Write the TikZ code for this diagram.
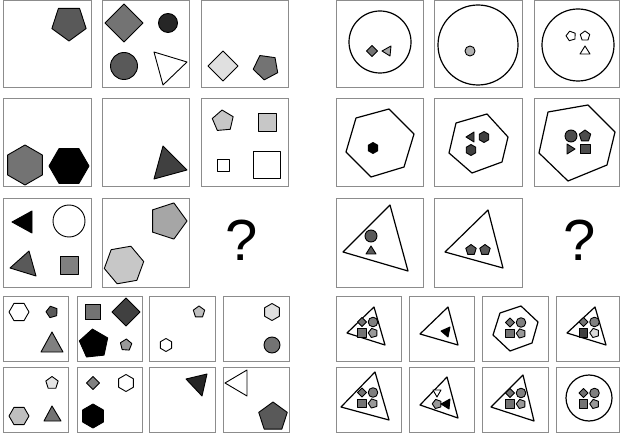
\documentclass[tikz,border=0pt]{standalone}
\usepackage{fontspec}
\setmainfont{Liberation Sans}
\tikzset{
  panel/.style={draw=black!45, line width=1pt},
  fig/.style={draw=black, line width=0.9pt, line join=round},
  frame/.style={draw=black, line width=1.2pt, line join=round},
}
% regular polygon: sides, x, y, radius, turn, fill
\newcommand{\ngon}[6]{%
  \draw[fig, fill=#6, shift={(#2,#3)}] ({90+#5}:#4)
    \foreach \k in {2,...,#1} {-- ({90+#5+360*(\k-1)/#1}:#4)} -- cycle;}
% group of four small shapes: x, y, square fill, pentagon fill
\newcommand{\quartet}[4]{%
  \ngon{4}{#1-5.5}{#2-5.5}{4.6}{0}{black!55}
  \draw[fig, fill=black!50] (#1+5.5,#2-5.5) circle (4.8);
  \ngon{4}{#1-5.5}{#2+5.5}{5.8}{45}{#3}
  \ngon{5}{#1+5.5}{#2+5.5}{4.8}{20}{#4}}
\begin{document}
\begin{tikzpicture}[x=1pt, y=-1pt]
    \useasboundingbox (0,0) rectangle (620,435);

    % left grid, row 1
    \draw[panel] (3,0.5) rectangle (91,88);
    \ngon{5}{69}{23}{18}{0}{black!65}
    \draw[panel] (102,0.5) rectangle (189,88);
    \ngon{4}{124}{23}{19}{0}{black!55}
    \draw[fig, fill=black!85] (168,23) circle (9.5);
    \draw[fig, fill=black!65] (124,66) circle (13.5);
    \draw[fig, fill=white] (154,52) -- (187,62) -- (163,85) -- cycle;
    \draw[panel] (201,0.5) rectangle (288,88);
    \ngon{4}{223}{66}{15}{0}{black!12}
    \ngon{5}{266}{67}{13}{8}{black!55}

    % left grid, row 2
    \draw[panel] (3,99) rectangle (91,187);
    \ngon{6}{25}{165}{20}{0}{black!55}
    \ngon{6}{69}{166}{20}{30}{black}
    \draw[panel] (102,99) rectangle (189,187);
    \draw[fig, fill=black!75] (163,146) -- (187,170) -- (154,179) -- cycle;
    \draw[panel] (201,99) rectangle (288,187);
    \ngon{5}{223}{121}{11}{31}{black!22}
    \ngon{4}{267}{122}{12.7}{45}{black!22}
    \ngon{4}{223}{165}{8.5}{45}{white}
    \ngon{4}{267}{165}{19}{45}{white}

    % left grid, row 3
    \draw[panel] (3,199) rectangle (91,287);
    \draw[fig, fill=black] (12,222) -- (32,211) -- (32,233) -- cycle;
    \draw[fig, fill=white] (69,221) circle (16);
    \draw[fig, fill=black!65] (10,268) -- (29,251) -- (36,276) -- cycle;
    \ngon{4}{69}{265}{12.7}{45}{black!50}
    \draw[panel] (102,199) rectangle (189,287);
    \ngon{5}{168}{221}{19}{-18}{black!35}
    \ngon{6}{124}{265}{20}{20}{black!22}
    \node (qleft) at (242,240) {\fontsize{58}{60}\selectfont ?};

    % right grid, row 1
    \draw[panel] (336,0.5) rectangle (423,88);
    \draw[frame] (380,42) circle (31);
    \ngon{4}{372}{51}{5.5}{0}{black!55}
    \draw[fig, fill=black!35] (382,51) -- (391,46) -- (390,56) -- cycle;
    \draw[panel] (434,0.5) rectangle (522,88);
    \draw[frame] (478,45) circle (40);
    \draw[fig, fill=black!30] (470,51) circle (5);
    \draw[panel] (534,0.5) rectangle (619.5,88);
    \draw[frame] (578,45) circle (36);
    \ngon{5}{571}{36}{5}{20}{white}
    \ngon{5}{585}{36}{5}{36}{white}
    \draw[fig, fill=white] (580,54) -- (585,46) -- (590,54) -- cycle;

    % right grid, row 2
    \draw[panel] (336,99) rectangle (423,187);
    \draw[frame] (356,118) -- (389,109) -- (414,134) -- (404,167) -- (371,177) -- (346,152) -- cycle;
    \ngon{6}{373}{148}{5.5}{0}{black}
    \draw[panel] (434,99) rectangle (522,187);
    \draw[frame] (456,123) -- (487,114) -- (508,137) -- (502,162) -- (472,173) -- (449,153) -- cycle;
    \draw[fig, fill=black!75] (466,137) -- (474,132) -- (474,142) -- cycle;
    \ngon{6}{484}{137}{5.5}{0}{black!75}
    \ngon{6}{471}{150}{5.5}{0}{black!75}
    \draw[panel] (534,99) rectangle (619.5,187);
    \draw[frame] (548,112) -- (588,105) -- (615,132) -- (607,165) -- (568,181) -- (539,153) -- cycle;
    \draw[fig, fill=black!70] (571,136) circle (6);
    \ngon{5}{585}{136}{6}{36}{black!70}
    \draw[fig, fill=black!70] (567,144) -- (575,149) -- (567,154) -- cycle;
    \ngon{4}{585}{149}{7}{45}{black!70}

    % right grid, row 3
    \draw[panel] (336,199) rectangle (423,287);
    \draw[frame] (343,252) -- (390,205) -- (408,271) -- cycle;
    \draw[fig, fill=black!65] (371,236) circle (6);
    \draw[fig, fill=black!65] (366,254) -- (371,246) -- (376,254) -- cycle;
    \draw[panel] (434,199) rectangle (522,287);
    \draw[frame] (445,252) -- (488,210) -- (503,268) -- cycle;
    \ngon{5}{471}{250}{5.5}{36}{black!65}
    \ngon{5}{485}{250}{5.5}{36}{black!65}
    \node (qright) at (580,240) {\fontsize{58}{60}\selectfont ?};

    % left options, row A
    \draw[panel] (3,296) rectangle (68,361);
    \ngon{6}{19}{312}{10}{30}{white}
    \ngon{5}{52}{312}{6}{20}{black!65}
    \draw[fig, fill=black!50] (41,352) -- (52,332) -- (63,352) -- cycle;
    \draw[panel] (77,296) rectangle (142,361);
    \ngon{4}{93}{312}{11}{45}{black!55}
    \ngon{4}{126}{312}{14}{0}{black!75}
    \ngon{5}{94}{344}{15}{30}{black}
    \ngon{5}{126}{345}{6}{40}{black!40}
    \draw[panel] (149,296) rectangle (215,361);
    \ngon{5}{199}{312}{6}{36}{black!25}
    \ngon{6}{166}{345}{6.5}{0}{white}
    \draw[panel] (223,296) rectangle (289,361);
    \ngon{6}{272}{312}{8.5}{0}{black!12}
    \draw[fig, fill=black!55] (272,345) circle (8);

    % left options, row B
    \draw[panel] (3,367) rectangle (68,432);
    \ngon{5}{52}{383}{6.5}{36}{black!10}
    \ngon{6}{19}{416}{10}{30}{black!25}
    \draw[fig, fill=black!55] (44,421) -- (52,406) -- (61,421) -- cycle;
    \draw[panel] (77,367) rectangle (142,432);
    \ngon{4}{93}{383}{6.5}{0}{black!50}
    \ngon{6}{126}{383}{8.5}{0}{white}
    \ngon{6}{93}{416}{12}{0}{black}
    \draw[panel] (149,367) rectangle (215,432);
    \draw[fig, fill=black!85] (186,379) -- (207,374) -- (202,396) -- cycle;
    \draw[panel] (223,367) rectangle (289,432);
    \draw[fig, fill=white] (225,383) -- (247,370) -- (247,396) -- cycle;
    \ngon{5}{273}{417}{15}{36}{black!65}

    % right options, row A
    \draw[panel] (336,296) rectangle (401,361);
    \draw[frame] (347,333) -- (374,307) -- (385,345) -- cycle;
    \quartet{367.5}{327.5}{black!55}{black!40}
    \draw[panel] (409,296) rectangle (474,361);
    \draw[frame] (420,334) -- (448,307) -- (458,345) -- cycle;
    \draw[fig, fill=black] (441,331) -- (450,327) -- (448,337) -- cycle;
    \draw[panel] (482,296) rectangle (548,361);
    \draw[frame] (500,313) -- (521,306) -- (538,322) -- (532,343) -- (510,351) -- (493,335) -- cycle;
    \quartet{515.5}{328}{black!55}{black!40}
    \draw[panel] (556,296) rectangle (619.5,361);
    \draw[frame] (567,333) -- (595,307) -- (606,345) -- cycle;
    \quartet{589}{327.5}{black!75}{black!15}

    % right options, row B
    \draw[panel] (336,367) rectangle (401,432);
    \draw[frame] (341,407) -- (375,372) -- (389,420) -- cycle;
    \quartet{367.5}{398}{black!55}{black!40}
    \draw[panel] (409,367) rectangle (474,432);
    \draw[frame] (420,405) -- (447,377) -- (458,418) -- cycle;
    \draw[fig, fill=white] (433,390) -- (441,390) -- (437,397) -- cycle;
    \ngon{5}{437}{404}{4.8}{20}{black!40}
    \draw[fig, fill=black] (441,404) -- (450,399) -- (449,409) -- cycle;
    \draw[panel] (482,367) rectangle (548,432);
    \draw[frame] (491,407) -- (523,375) -- (534,421) -- cycle;
    \quartet{515.5}{398.5}{black!55}{black!40}
    \draw[panel] (556,367) rectangle (619.5,432);
    \draw[frame] (589,398) circle (23);
    \quartet{589}{398.5}{black!55}{black!40}
\end{tikzpicture}
\end{document}
